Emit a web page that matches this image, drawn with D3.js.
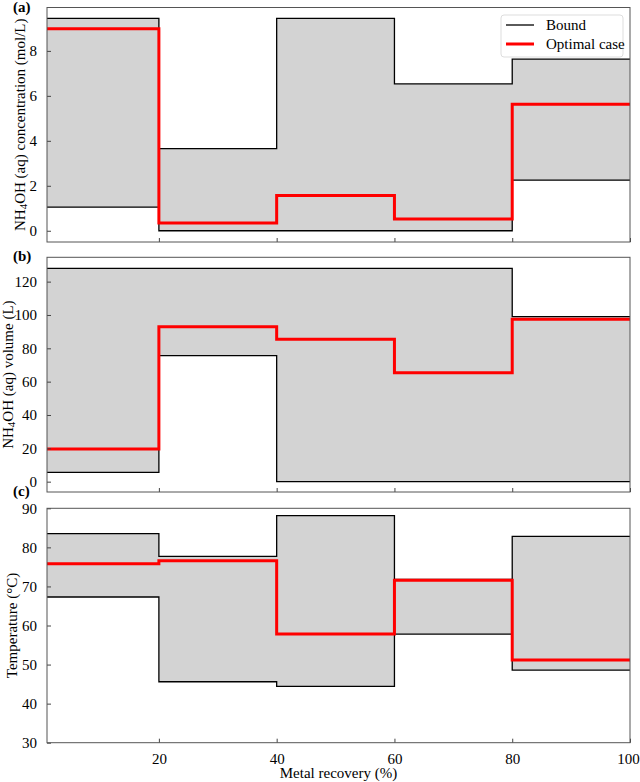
<!DOCTYPE html>
<html>
<head>
<meta charset="utf-8">
<script src="https://cdn.jsdelivr.net/npm/d3@7"></script>
<style>
  body { margin: 0; background: #fff; }
  svg { display: block; font-family: "Liberation Serif", "Times New Roman", serif; }
</style>
</head>
<body>
<svg id="chart" width="640" height="782"></svg>
<script>
// segment edges along metal recovery (%)
var edges = [1, 20, 40, 60, 80, 100];
var xTicks = [20, 40, 60, 80, 100];

// (a) NH4OH concentration, mol/L
var concUpper = [9.45, 3.65, 9.45, 6.53, 7.63];
var concLower = [1.05, 0, 0, 0, 2.25];
var concOptimal = [8.98, 0.34, 1.57, 0.52, 5.63];
var concTicks = [0, 2, 4, 6, 8];

// (b) NH4OH volume, L
var volUpper = [128, 128, 128, 128, 99];
var volLower = [5.6, 75.6, 0, 0, 0];
var volOptimal = [19.6, 93, 85.4, 65.4, 97.4];
var volTicks = [0, 20, 40, 60, 80, 100, 120];

// (c) temperature, °C
var tempUpper = [83.5, 77.7, 88.1, 71.8, 82.8];
var tempLower = [67.3, 45.6, 44.4, 57.8, 48.6];
var tempOptimal = [75.8, 76.6, 57.8, 71.6, 51.2];
var tempTicks = [30, 40, 50, 60, 70, 80, 90];

var left = 47, right = 630;
var fontSize = 15;
var svg = d3.select("#chart");

var x = d3.scaleLinear().domain([1, 100]).range([left, right]);

var panels = [
    { tag: "(a)", top: 7.5, bottom: 242, domain: [-0.5, 9.93], ticks: concTicks,
      upper: concUpper, lower: concLower, optimal: concOptimal,
      label: ["NH", "4", "OH (aq) concentration (mol/L)"], labelX: 20, tagY: 12, legend: true },
    { tag: "(b)", top: 257.3, bottom: 492, domain: [-6.2, 134.6], ticks: volTicks,
      upper: volUpper, lower: volLower, optimal: volOptimal,
      label: ["NH", "4", "OH (aq) volume (L)"], labelX: 8, tagY: 261 },
    { tag: "(c)", top: 508.3, bottom: 742.7, domain: [30, 90], ticks: tempTicks,
      upper: tempUpper, lower: tempLower, optimal: tempOptimal,
      label: ["Temperature (°C)"], labelX: 12, tagY: 496, xLabels: true }
];

// step points: each value holds until the next edge
function steps(vals) {
    var pts = vals.map(function (v, i) { return [edges[i], v]; });
    pts.push([edges[edges.length - 1], vals[vals.length - 1]]);
    return pts;
}

panels.forEach(function (p) {
    var y = d3.scaleLinear().domain(p.domain).range([p.bottom, p.top]);
    var g = svg.append("g");

    var area = d3.area()
        .curve(d3.curveStepAfter)
        .x(function (d) { return x(d[0]); })
        .y0(function (d) { return y(d[1]); })
        .y1(function (d) { return y(d[2]); });
    var line = d3.line()
        .curve(d3.curveStepAfter)
        .x(function (d) { return x(d[0]); })
        .y(function (d) { return y(d[1]); });

    var lo = steps(p.lower), up = steps(p.upper);
    g.append("path")
        .datum(lo.map(function (d, i) { return [d[0], d[1], up[i][1]]; }))
        .attr("fill", "#d3d3d3")
        .attr("d", area);

    [lo, up].forEach(function (pts) {
        g.append("path")
            .datum(pts)
            .attr("fill", "none")
            .attr("stroke", "#000")
            .attr("stroke-width", 1.3)
            .attr("d", line);
    });

    g.append("path")
        .datum(steps(p.optimal))
        .attr("fill", "none")
        .attr("stroke", "#f00")
        .attr("stroke-width", 3)
        .attr("d", line);

    // axes with inward ticks
    var yAxis = g.append("g")
        .attr("transform", `translate(${left},0)`)
        .call(d3.axisLeft(y).tickValues(p.ticks).tickSize(-4).tickPadding(10));
    var xAxis = g.append("g")
        .attr("transform", `translate(0,${p.bottom})`)
        .call(d3.axisBottom(x).tickValues(xTicks).tickSize(-4).tickPadding(11)
            .tickFormat(p.xLabels ? d3.format("d") : ""));
    [yAxis, xAxis].forEach(function (a) {
        a.attr("font-family", null).attr("font-size", fontSize);
        a.select(".domain").remove();
        a.selectAll("line").attr("stroke", "#444");
        a.selectAll("text").attr("fill", "#000");
    });
    // keep the "100" label inside the page
    xAxis.selectAll("text").filter(function (d) { return d === 100; }).attr("dx", -2);

    g.append("rect")
        .attr("x", left).attr("y", p.top)
        .attr("width", right - left).attr("height", p.bottom - p.top)
        .attr("fill", "none").attr("stroke", "#555").attr("stroke-width", 1);

    // y label
    var cy = (p.top + p.bottom) / 2;
    var lbl = g.append("text")
        .attr("transform", `translate(${p.labelX},${cy}) rotate(-90)`)
        .attr("text-anchor", "middle")
        .attr("dominant-baseline", "central")
        .attr("font-size", fontSize)
        .attr("fill", "#000");
    p.label.forEach(function (s, i) {
        var t = lbl.append("tspan").text(s);
        if (i === 1) t.attr("font-size", 11).attr("dy", 3);
        if (i === 2) t.attr("dy", -3);
    });

    g.append("text")
        .attr("x", 13).attr("y", p.tagY)
        .attr("font-size", fontSize).attr("font-weight", "bold")
        .text(p.tag);

    if (p.legend) {
        var lg = g.append("g").attr("transform", "translate(501,15)");
        lg.append("rect")
            .attr("width", 122).attr("height", 42).attr("rx", 3)
            .attr("fill", "#fff").attr("fill-opacity", 0.85)
            .attr("stroke", "#ddd");
        [["Bound", "#000", 1.3, 10], ["Optimal case", "#f00", 3, 29]].forEach(function (e) {
            lg.append("line")
                .attr("x1", 5).attr("x2", 33).attr("y1", e[3]).attr("y2", e[3])
                .attr("stroke", e[1]).attr("stroke-width", e[2]);
            lg.append("text")
                .attr("x", 45).attr("y", e[3] + 5)
                .attr("font-size", fontSize).attr("fill", "#000")
                .text(e[0]);
        });
    }
});

svg.append("text")
    .attr("x", (left + right) / 2).attr("y", 778)
    .attr("text-anchor", "middle")
    .attr("font-size", fontSize).attr("fill", "#000")
    .text("Metal recovery (%)");
</script>
</body>
</html>
